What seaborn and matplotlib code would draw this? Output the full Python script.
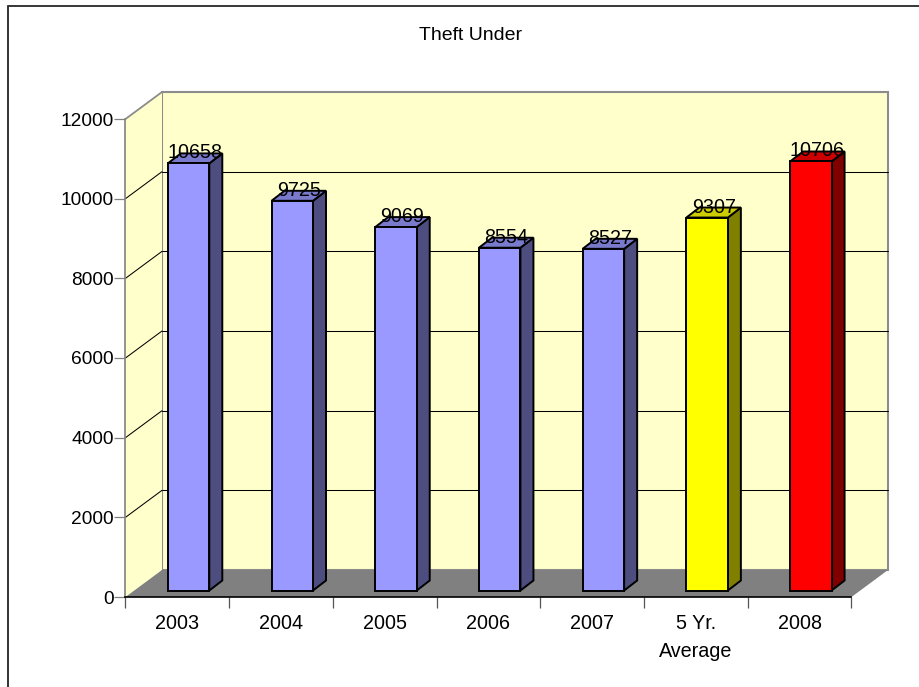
import matplotlib
matplotlib.use('Agg')
import matplotlib.pyplot as plt
from matplotlib.lines import Line2D
from matplotlib.patches import Polygon, Rectangle
from matplotlib.transforms import Affine2D, ScaledTranslation
import pandas as pd
import seaborn as sns

categories = ['2003', '2004', '2005', '2006', '2007', '5 Yr.\nAverage', '2008']
values = [10658, 9725, 9069, 8554, 8527, 9307, 10706]
yticks = [0, 2000, 4000, 6000, 8000, 10000, 12000]

front = ['#9999ff'] * 5 + ['#ffff00', '#ff0000']
side = ['#4d4d80'] * 5 + ['#808000', '#800000']
top = ['#7a7acc'] * 5 + ['#cccc00', '#cc0000']

W, H = 920, 687
DPI = 100
PX = 72 / DPI  # points per pixel

sns.set_theme(style='white')
plt.rcParams['font.family'] = ['Liberation Sans', 'DejaVu Sans']

fig = plt.figure(figsize=(W / DPI, H / DPI), dpi=DPI, facecolor='white')
# axes sits on the front plane of the fake 3d box
ax = fig.add_axes([125.5 / W, 1 - 597 / H, 726 / W, 478 / H])
ax.patch.set_alpha(0)

df = pd.DataFrame({'cat': categories, 'val': values})
sns.barplot(data=df, x='cat', y='val', hue='cat', palette=front, saturation=1, legend=False,
            width=0.40, edgecolor='black', linewidth=1.4, ax=ax, zorder=5)
bars = list(ax.patches)
ax.set_xlim(-0.5, 6.5)
ax.set_ylim(0, 12000)


def shift(dx, dy):
    # offset from data coords in pixels
    return ax.transData + ScaledTranslation(dx / DPI, dy / DPI, fig.dpi_scale_trans)


wall = shift(36.5, 27)
inv = ax.transData.inverted()
wall_grey = '#8c8c8c'

# back wall, side wall, floor
ax.add_patch(Rectangle((-0.5, 0), 7, 12000, transform=wall, fc='#ffffcc', ec=wall_grey, lw=1.5, zorder=1, clip_on=False))
lo = inv.transform(wall.transform((-0.5, 0)))
hi = inv.transform(wall.transform((-0.5, 12000)))
lo_r = inv.transform(wall.transform((6.5, 0)))
ax.add_patch(Polygon([(-0.5, 0), (-0.5, 12000), hi, lo], fc='#ffffcc', ec='none', zorder=1, clip_on=False))
ax.plot([-0.5, hi[0]], [12000, hi[1]], color=wall_grey, lw=1.3, zorder=2, clip_on=False)
ax.add_patch(Polygon([(-0.5, 0), (6.5, 0), lo_r, lo], fc='#808080', ec='none', zorder=2, clip_on=False))

# gridlines run along the back wall and down the side wall
for t in yticks[1:-1]:
    ax.plot([-0.5, 6.5], [t, t], transform=wall, color='black', lw=0.75, zorder=2, clip_on=False)
    p = inv.transform(wall.transform((-0.5, t)))
    ax.plot([-0.5, p[0]], [t, p[1]], color='black', lw=0.75, zorder=2, clip_on=False)

# bars: front face moved into the box (the bar plane is a touch larger than
# the front plane), plus side and top faces
y_zero = ax.transData.transform((0, 0))[1]
bar_tr = (ax.transData
          + Affine2D().translate(0, -y_zero).scale(1, 1.006).translate(0, y_zero)
          + ScaledTranslation(11.2 / DPI, 6.5 / DPI, fig.dpi_scale_trans))
SIDE_X, SIDE_Y = 13, 10
for i, p in enumerate(bars):
    x0, w, h = p.get_x(), p.get_width(), p.get_height()
    p.set_transform(bar_tr)
    p.set_clip_on(False)
    a, b, c = [bar_tr.transform(q) for q in [(x0 + w, 0), (x0 + w, h), (x0, h)]]
    a2 = (a[0] + SIDE_X, a[1] + SIDE_Y)
    b2 = (b[0] + SIDE_X, b[1] + SIDE_Y)
    c2 = (c[0] + SIDE_X, c[1] + SIDE_Y)
    ax.add_patch(Polygon([a, b, b2, a2], transform=None, fc=side[i], ec='black', lw=1.4, zorder=4, joinstyle='miter', clip_on=False))
    ax.add_patch(Polygon([c, b, b2, c2], transform=None, fc=top[i], ec='black', lw=1.4, zorder=4, joinstyle='miter', clip_on=False))
    ax.annotate(str(values[i]), xy=(x0 + w / 2, h), xycoords=bar_tr, xytext=(6.5 * PX, 10.5 * PX),
                textcoords='offset points', ha='center', va='center', fontsize=14.2,
                color='black', zorder=6, annotation_clip=False)

# axes lines and ticks
for s in ['top', 'right']:
    ax.spines[s].set_visible(False)
ax.spines['left'].set_color('#808080')
ax.spines['left'].set_linewidth(1.2)
ax.spines['bottom'].set_color('black')
ax.spines['bottom'].set_linewidth(1.2)
ax.spines['bottom'].set_zorder(3)
ax.set_yticks(yticks)
ax.set_xticks([i - 0.5 for i in range(8)], minor=True)
ax.set_xticks(range(7))
ax.set_xticklabels(categories, linespacing=1.65)
ax.tick_params(axis='x', which='major', length=0, pad=12, labelsize=14.2, labelcolor='black')
ax.tick_params(axis='x', which='minor', bottom=True, length=8, width=0.9, color='#555555')
ax.tick_params(axis='y', left=True, length=8, width=0.9, color='#808080', pad=0.5, labelsize=13.8, labelcolor='black')
ax.set_xlabel('')
ax.set_ylabel('')

fig.text(470.5 / W, 1 - 35 / H, 'Theft Under', ha='center', va='center', fontsize=14, color='black')
# chart frame, only top and left fall inside the image
fig.add_artist(Line2D([8 / W, 1], [1 - 5.5 / H, 1 - 5.5 / H], transform=fig.transFigure, color='black', lw=1.1))
fig.add_artist(Line2D([8 / W, 8 / W], [0, 1 - 5.5 / H], transform=fig.transFigure, color='#333333', lw=1.4))

fig.savefig('out.png', dpi=DPI)
